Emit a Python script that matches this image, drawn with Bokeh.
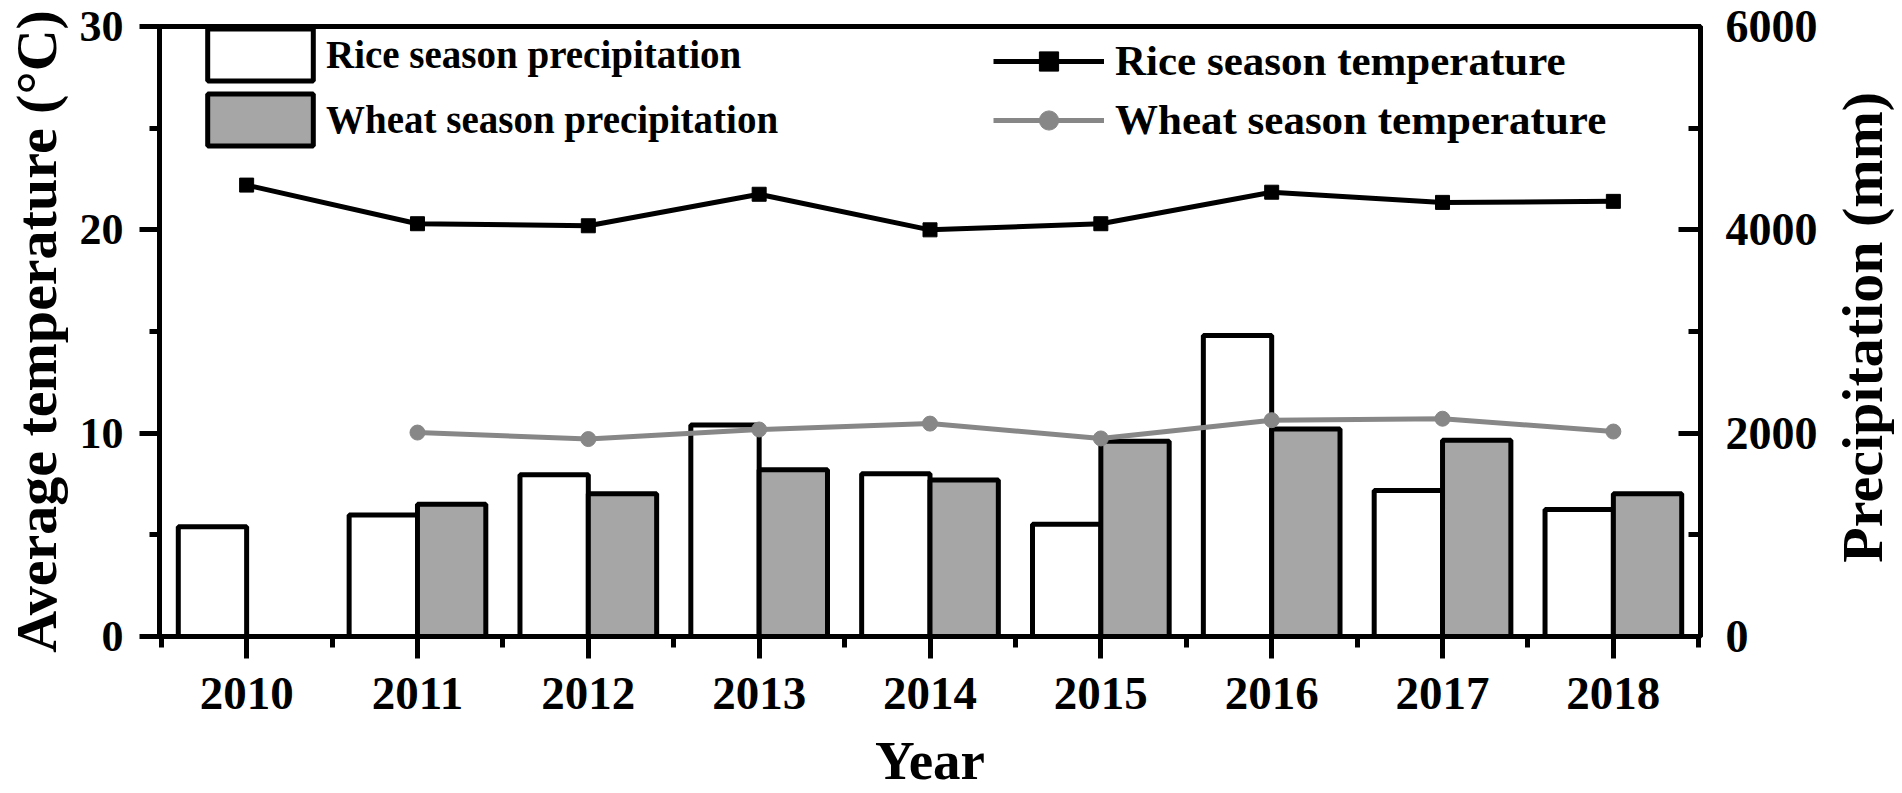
from bokeh.plotting import figure
from bokeh.layouts import row
from bokeh.models import (Range1d, LinearAxis, FixedTicker, SingleIntervalTicker,
                          Legend, LegendItem, ColumnDataSource)
from bokeh.core.properties import value
from bokeh.transform import dodge
from bokeh.embed import file_html
from bokeh.resources import INLINE

# ---------------- data ----------------
years = [2010, 2011, 2012, 2013, 2014, 2015, 2016, 2017, 2018]
rice_temp = [22.2, 20.3, 20.2, 21.75, 20.0, 20.3, 21.85, 21.35, 21.4]
rice_precip = [1080, 1195, 1590, 2080, 1600, 1105, 2960, 1435, 1250]

wheat_years = [2011, 2012, 2013, 2014, 2015, 2016, 2017, 2018]
wheat_temp = [10.03, 9.71, 10.18, 10.47, 9.74, 10.64, 10.71, 10.08]
wheat_precip = [1300, 1405, 1640, 1540, 1920, 2040, 1930, 1405]

minor_year_ticks = [y - 0.5 for y in years] + [years[-1] + 0.5]

FONT = "Liberation Serif"
GRAY_FILL = "#a6a6a6"
GRAY_LINE = "#878787"

rice_src = ColumnDataSource(dict(year=years, temp=rice_temp, precip=rice_precip))
wheat_src = ColumnDataSource(dict(year=wheat_years, temp=wheat_temp, precip=wheat_precip))

W_TOTAL, H = 1902, 793
W_SIDE = 72                      # strip holding the right axis title
W = W_TOTAL - W_SIDE
FL, FR, FT, FB = 153, W - 1700, 26, 157   # borders around the frame

p = figure(width=W, height=H, output_backend="svg", toolbar_location=None,
           x_range=Range1d(2009.49, 2018.51), y_range=Range1d(0, 30),
           min_border_left=FL, min_border_right=FR,
           min_border_top=FT, min_border_bottom=FB)
p.extra_y_ranges = {"precip": Range1d(0, 6000)}

p.xgrid.grid_line_color = None
p.ygrid.grid_line_color = None
p.background_fill_color = "white"
p.border_fill_color = "white"
p.outline_line_color = "black"
p.outline_line_width = 5


def style_axis(ax, label_size):
    ax.axis_line_width = 5
    ax.axis_line_color = "black"
    ax.major_tick_line_width = 5
    ax.minor_tick_line_width = 5
    ax.major_tick_line_color = "black"
    ax.minor_tick_line_color = "black"
    ax.major_label_text_font = FONT
    ax.major_label_text_font_style = "bold"
    ax.major_label_text_font_size = label_size
    ax.major_label_text_color = "black"
    ax.axis_label_text_font = FONT
    ax.axis_label_text_font_style = "bold"
    ax.axis_label_text_color = "black"


# bottom axis
xa = p.xaxis[0]
xa.ticker = FixedTicker(ticks=years, minor_ticks=minor_year_ticks)
style_axis(xa, "47px")
xa.major_tick_out = 22
xa.major_tick_in = 0
xa.minor_tick_out = 11
xa.minor_tick_in = 0
xa.major_label_standoff = 19
xa.axis_label = "Year"
xa.axis_label_text_font_size = "55px"
xa.axis_label_standoff = 18

# left axis
ya = p.yaxis[0]
ya.ticker = SingleIntervalTicker(interval=10, num_minor_ticks=2)
style_axis(ya, "44px")
ya.major_tick_out = 20
ya.major_tick_in = 0
ya.minor_tick_out = 10
ya.minor_tick_in = 0
ya.major_label_standoff = 16
ya.axis_label = "Average temperature (°C)"
ya.axis_label_text_font_size = "58px"
ya.axis_label_standoff = 8

# right axis
ra = LinearAxis(y_range_name="precip",
                ticker=SingleIntervalTicker(interval=2000, num_minor_ticks=2))
style_axis(ra, "46px")
ra.major_tick_out = 0
ra.major_tick_in = 22
ra.minor_tick_out = 0
ra.minor_tick_in = 12
ra.major_label_standoff = 25
p.add_layout(ra, "right")

# bars
rice_bar = p.vbar(x=dodge("year", -0.2, range=p.x_range), top="precip", width=0.4,
                  source=rice_src, y_range_name="precip",
                  fill_color="white", line_color="black", line_width=5)
wheat_bar = p.vbar(x=dodge("year", 0.2, range=p.x_range), top="precip", width=0.4,
                   source=wheat_src, y_range_name="precip",
                   fill_color=GRAY_FILL, line_color="black", line_width=5)

# lines
rice_line = p.line(x="year", y="temp", source=rice_src, line_color="black", line_width=5)
rice_pts = p.scatter(x="year", y="temp", source=rice_src, marker="square", size=14,
                     fill_color="black", line_color="black")
wheat_line = p.line(x="year", y="temp", source=wheat_src, line_color=GRAY_LINE, line_width=5)
wheat_pts = p.scatter(x="year", y="temp", source=wheat_src, marker="circle", size=15,
                      fill_color=GRAY_LINE, line_color=GRAY_LINE)

leg1 = Legend(items=[LegendItem(label="Rice season precipitation", renderers=[rice_bar]),
                     LegendItem(label="Wheat season precipitation", renderers=[wheat_bar])],
              location=(35, 484), orientation="vertical",
              glyph_width=132, glyph_height=65, spacing=-6, label_standoff=0,
              padding=0, margin=0,
              label_text_font=FONT, label_text_font_style="bold",
              label_text_font_size="39px", label_text_color="black",
              background_fill_alpha=0, border_line_alpha=0)
leg2 = Legend(items=[LegendItem(label="Rice season temperature", renderers=[rice_line, rice_pts]),
                     LegendItem(label="Wheat season temperature", renderers=[wheat_line, wheat_pts])],
              location=(834, 492), orientation="vertical",
              glyph_width=111, glyph_height=48, spacing=10, label_standoff=11,
              padding=0, margin=0,
              label_text_font=FONT, label_text_font_style="bold",
              label_text_font_size="43px", label_text_color="black",
              background_fill_alpha=0, border_line_alpha=0)
p.add_layout(leg1, "center")
p.add_layout(leg2, "center")

# narrow strip on the right carrying the right-axis title (reads bottom-to-top)
side = figure(width=W_SIDE, height=H, output_backend="svg", toolbar_location=None,
              x_range=Range1d(0, W_SIDE), y_range=Range1d(0, H),
              x_axis_location=None, y_axis_location=None, title=None,
              min_border_left=0, min_border_right=0,
              min_border_top=0, min_border_bottom=0)
side.xgrid.grid_line_color = None
side.ygrid.grid_line_color = None
side.outline_line_color = None
side.background_fill_color = "white"
side.border_fill_color = "white"
title_src = ColumnDataSource(dict(x=[32], y=[402], t=["Precipitation (mm)"]))
side.text(x="x", y="y", text="t", source=title_src, angle=90, angle_units="deg",
          text_align="center", text_baseline="alphabetic",
          text_font=value(FONT), text_font_style="bold", text_font_size="58px",
          text_color="black")

layout = row(p, side)
open("out.html", "w").write(file_html(layout, INLINE))
